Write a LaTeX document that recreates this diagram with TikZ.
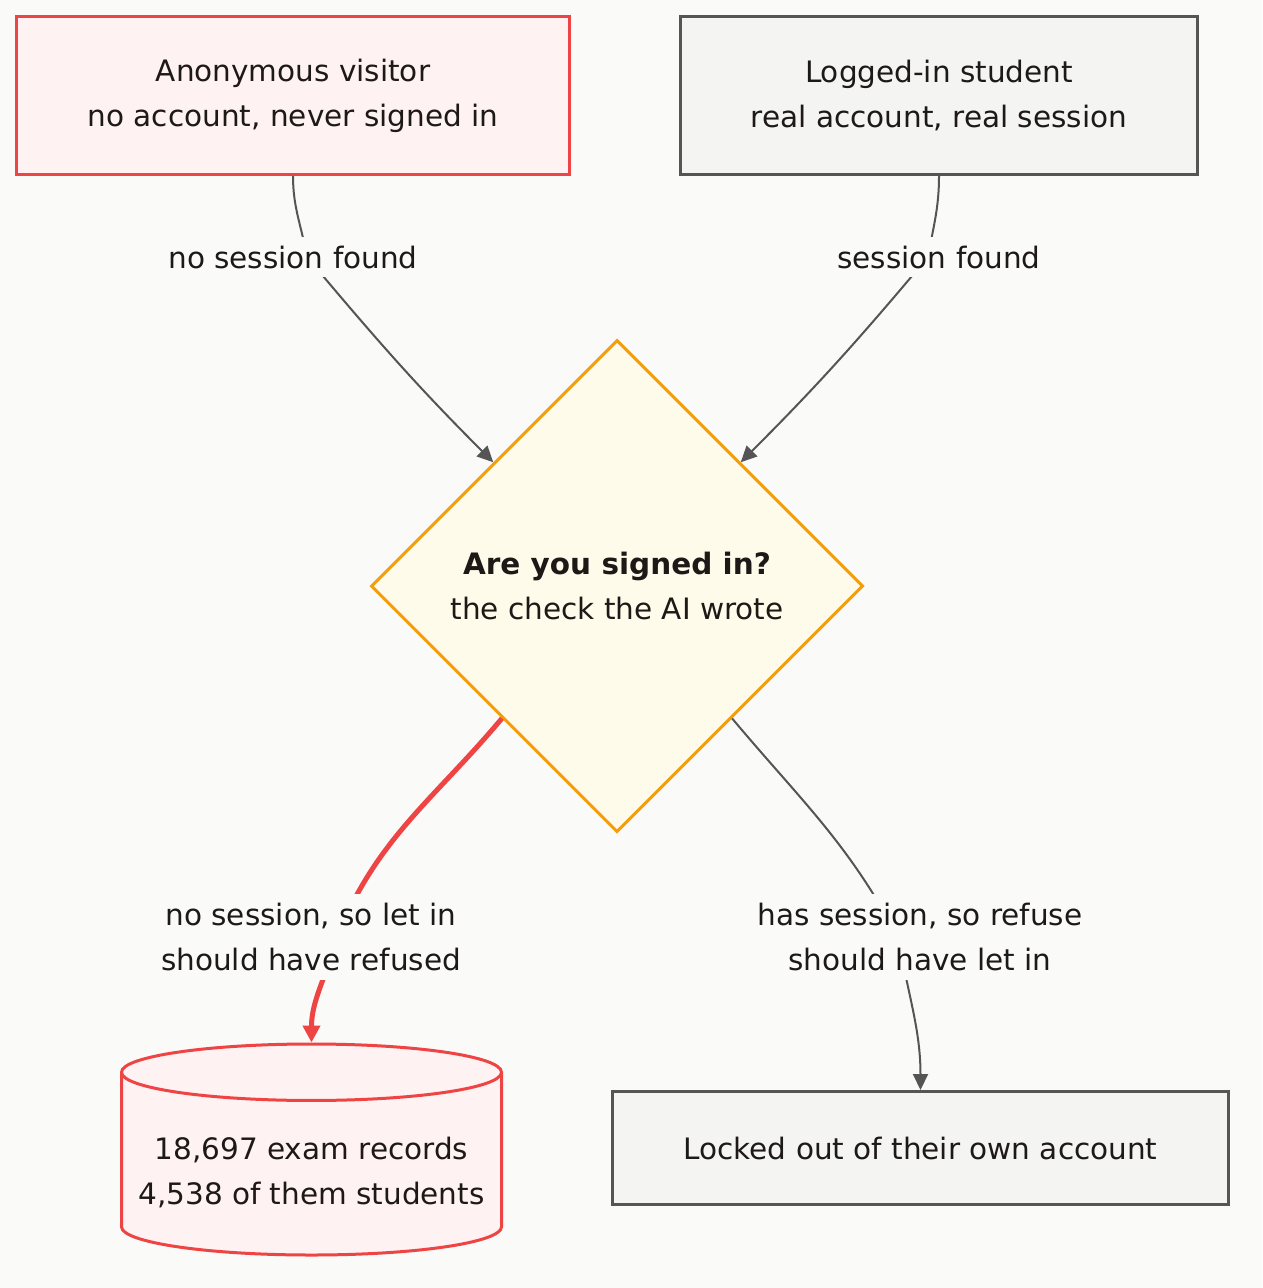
\documentclass[tikz,border=0pt]{standalone}
\usepackage{fontspec}
\setmainfont{DejaVu Sans}
\usetikzlibrary{shapes.geometric,arrows.meta}

\definecolor{bgc}{HTML}{FAFAF9}
\definecolor{ink}{HTML}{1C1917}
\definecolor{redline}{HTML}{EF4444}
\definecolor{redfill}{HTML}{FEF2F2}
\definecolor{grayline}{HTML}{555555}
\definecolor{grayfill}{HTML}{F4F4F2}
\definecolor{amber}{HTML}{F59E0B}
\definecolor{amberfill}{HTML}{FFFBEB}

\tikzset{
  badbox/.style={draw=redline, fill=redfill, line width=3pt, align=center},
  okbox/.style={draw=grayline, fill=grayfill, line width=3pt, align=center},
  check/.style={shape=diamond, draw=amber, fill=amberfill, line width=3pt, align=center,
    minimum width=492, minimum height=492, inner sep=0pt, aspect=1},
  store/.style={shape=cylinder, shape border rotate=90, aspect=0.16, draw=redline,
    fill=redfill, line width=3pt, align=center},
  flow/.style={draw=grayline, line width=2pt, -{Triangle[length=16pt,width=15pt]}},
  badflow/.style={draw=redline, line width=5pt, -{Triangle[length=17pt,width=17pt]}},
  lbl/.style={fill=bgc, inner xsep=4pt, inner ysep=9pt, align=center}
}

\begin{document}
\begin{tikzpicture}[x=1pt, y=1pt, font=\fontsize{29.5}{45}\selectfont, text=ink]
\fill[bgc] (0,0) rectangle (1262,-1288);

% Who comes in
\node[badbox, minimum width=553, minimum height=158] (anon) at (293,-95.5)
  {Anonymous visitor\\no account, never signed in};
\node[okbox, minimum width=517, minimum height=158] (student) at (939,-95.5)
  {Logged-in student\\real account, real session};

% The check
\node[check] (dec) at (617,-586)
  {\textbf{Are you signed in?}\\the check the AI wrote};

% What happens
\node[store, anchor=north, minimum width=380, minimum height=211] (db) at (311.5,-1042.5)
  {\rule{0pt}{34pt}18,697 exam records\\4,538 of them students};
\node[okbox, minimum width=616, minimum height=113] (lock) at (920.5,-1148)
  {Locked out of their own account};

% Label spots
\coordinate (l1) at (293,-257);
\coordinate (l2) at (939,-257);
\coordinate (l3) at (311,-937);
\coordinate (l4) at (920,-937);

% Arrows
\draw[flow] (anon.south) to[out=-90,in=100] (307,-257) to[out=-50,in=135] (dec.north west);
\draw[flow] (student.south) to[out=-90,in=80] (928,-257) to[out=-130,in=45] (dec.north east);
\draw[badflow] (dec.-131) to[out=-130,in=68] (337,-937) to[out=-105,in=90] (db.north);
\draw[flow] (dec.-49) to[out=-50,in=118] (898,-937) to[out=-80,in=90] (lock.north);

% Labels
\node[lbl] (t1) at (l1) {no session found};
\node[lbl] (t2) at (l2) {session found};
\node[lbl] (t3) at (l3) {no session, so let in\\should have refused};
\node[lbl] (t4) at (l4) {has session, so refuse\\should have let in};
\end{tikzpicture}
\end{document}
